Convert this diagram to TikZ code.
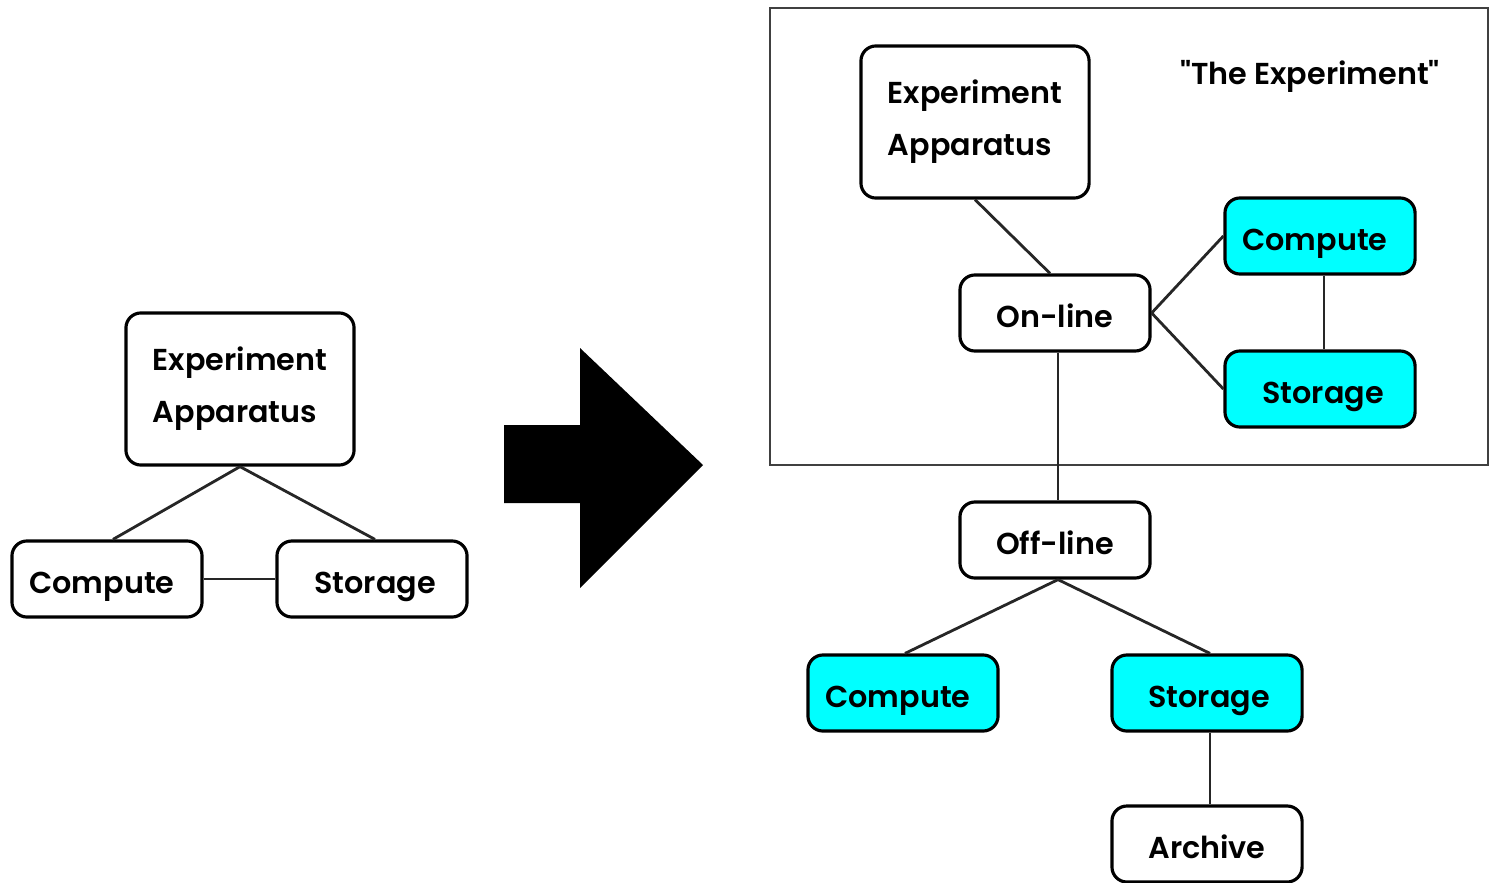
\documentclass[tikz,border=0pt]{standalone}
\usepackage{fontspec}
\IfFontExistsTF{Poppins SemiBold}
  {\setmainfont{Poppins}[BoldFont={Poppins SemiBold}]}
  {\setmainfont{Poppins}}
\usetikzlibrary{calc}
\definecolor{boxcyan}{HTML}{00FFFF}
\tikzset{
  unit/.style={rectangle, draw=black, line width=0.9pt, rounded corners=0.15cm,
    inner sep=0pt, font=\fontsize{8.6}{14.8}\selectfont\bfseries},
  plainbox/.style={unit, fill=white, minimum width=1.9cm, minimum height=0.76cm,
    text height=0.28cm, text depth=0cm},
  cyanbox/.style={plainbox, fill=boxcyan},
  bigbox/.style={unit, fill=white, minimum width=2.28cm, minimum height=1.52cm, align=left},
  link/.style={draw=black!85, line width=0.8pt},
}
\begin{document}
\begin{tikzpicture}[x=0.01cm, y=-0.01cm]
\useasboundingbox (0,0) rectangle (1489,882);

% framed region of the experiment
\draw[draw=black!75, line width=0.8pt] (770,8) rectangle (1488,465);
\node[font=\fontsize{8.6}{10}\selectfont\bfseries] (title) at (1310,76) {\textquotedbl The Experiment\textquotedbl};

% left: single system
\node[bigbox] (lexp) at (240,389) {Experiment\\Apparatus};
\node[plainbox] (lcomp) at (107,579) {\hspace*{-0.1cm}Compute};
\node[plainbox] (lstor) at (372,579) {\hspace*{0.06cm}Storage};
\draw[link] (lexp.south) -- ($(lcomp.north)+(6,0)$);
\draw[link] (lexp.south) -- ($(lstor.north)+(3,0)$);
\draw[link] (lcomp) -- (lstor);

% transformation arrow
\fill[black] (504,425) -- (580,425) -- (580,348) -- (703,465) -- (580,588)
  -- (580,503) -- (504,503) -- cycle;

% right: on-line and off-line systems
\node[bigbox] (rexp) at (975,122) {Experiment\\Apparatus};
\node[plainbox] (online) at (1055,313) {On-line};
\node[cyanbox] (rcomp) at (1320,236) {\hspace*{-0.1cm}Compute};
\node[cyanbox] (rstor) at (1320,389) {\hspace*{0.06cm}Storage};
\node[plainbox] (offline) at (1055,540) {Off-line};
\node[cyanbox] (ocomp) at (903,693) {\hspace*{-0.1cm}Compute};
\node[cyanbox] (ostor) at (1207,693) {\hspace*{0.04cm}Storage};
\node[plainbox] (archive) at (1207,844) {Archive};

\draw[link] (rexp.south) -- ($(online.north)+(-5,0)$);
\draw[link] (online.east) -- (rcomp.west);
\draw[link] (online.east) -- (rstor.west);
\draw[link] ($(rcomp.south)+(4,0)$) -- ($(rstor.north)+(4,0)$);
\draw[link] ($(online.south)+(3,0)$) -- ($(offline.north)+(3,0)$);
\draw[link] ($(offline.south)+(3,0)$) -- ($(ocomp.north)+(2,0)$);
\draw[link] ($(offline.south)+(3,0)$) -- ($(ostor.north)+(3,0)$);
\draw[link] ($(ostor.south)+(3,0)$) -- ($(archive.north)+(3,0)$);
\end{tikzpicture}
\end{document}
